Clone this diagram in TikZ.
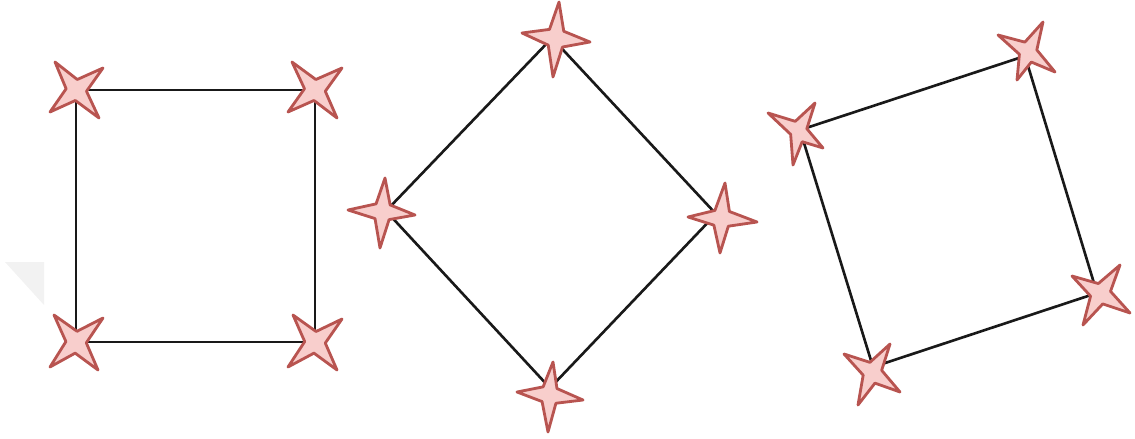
\documentclass[tikz,border=0pt]{standalone}
\usetikzlibrary{calc}
\definecolor{starfill}{HTML}{F8CECC}
\definecolor{starline}{HTML}{B85450}
\tikzset{
  edge/.style={draw=black!90, line width=1.5pt},
  starsty/.style={draw=starline, fill=starfill, line width=1.6pt, line join=round},
}
\newcommand{\stella}[5]{%
  \path (#1) ++(#2) coordinate (sa) (#1) ++(#3) coordinate (sb)
        (#1) ++(#4) coordinate (sc) (#1) ++(#5) coordinate (sd);
  \path ($(#1)!0.42!($(sa)!0.5!(sb)$)$) coordinate (iab)
        ($(#1)!0.42!($(sb)!0.5!(sc)$)$) coordinate (ibc)
        ($(#1)!0.42!($(sc)!0.5!(sd)$)$) coordinate (icd)
        ($(#1)!0.42!($(sd)!0.5!(sa)$)$) coordinate (ida);
  \draw[starsty] (sa) -- (iab) -- (sb) -- (ibc) -- (sc)
    -- (icd) -- (sd) -- (ida) -- cycle;
}
\begin{document}
\begin{tikzpicture}[x=0.02cm,y=-0.02cm]
\useasboundingbox (0,0) rectangle (1135,439);
% faint shadow triangle
\fill[black!5] (5,262) -- (44,262) -- (44,305) -- cycle;
% left square
\coordinate (a1) at (76,90);
\coordinate (a2) at (315,90);
\coordinate (a3) at (315,342);
\coordinate (a4) at (76,342);
\draw[edge] (a1) -- (a2) -- (a3) -- (a4) -- cycle;
% diamond
\coordinate (b1) at (552,38);
\coordinate (b2) at (716,214);
\coordinate (b3) at (550,388);
\coordinate (b4) at (386,211);
\draw[edge] (b1) -- (b2) -- (b3) -- (b4) -- cycle;
% tilted square
\coordinate (c1) at (800,130);
\coordinate (c2) at (1025,56);
\coordinate (c3) at (1097,293);
\coordinate (c4) at (873,367);
\draw[edge] (c1) -- (c2) -- (c3) -- (c4) -- cycle;
% stars, left square
\stella{a1}{-21,-28}{27,-22}{23,28}{-26,22}
\stella{a2}{-23,-28}{27,-22}{22,28}{-27,22}
\stella{a3}{-22,-27}{27,-23}{22,28}{-27,25}
\stella{a4}{-22,-27}{27,-24}{22,28}{-26,25}
% stars, diamond
\coordinate (sb1) at (556,38);
\coordinate (sb2) at (721,218);
\coordinate (sb3) at (549,394);
\coordinate (sb4) at (383,211);
\stella{sb1}{3,-36}{34,4}{-3,39}{-34,-5}
\stella{sb2}{4,-35}{36,4}{-1,35}{-33,-1}
\stella{sb3}{4,-32}{34,6}{-1,38}{-32,-2}
\stella{sb4}{2,-33}{32,4}{-3,37}{-35,-1}
% stars, tilted square
\coordinate (sc1) at (798,131);
\coordinate (sc2) at (1028,52);
\coordinate (sc3) at (1100,293);
\coordinate (sc4) at (872,372);
\stella{sc1}{-30,-18}{17,-28}{25,17}{-5,34}
\stella{sc2}{-30,-17}{15,-30}{27,20}{-11,28}
\stella{sc3}{-28,-17}{20,-28}{30,20}{-17,32}
\stella{sc4}{-28,-18}{18,-28}{28,20}{-14,33}
\end{tikzpicture}
\end{document}
